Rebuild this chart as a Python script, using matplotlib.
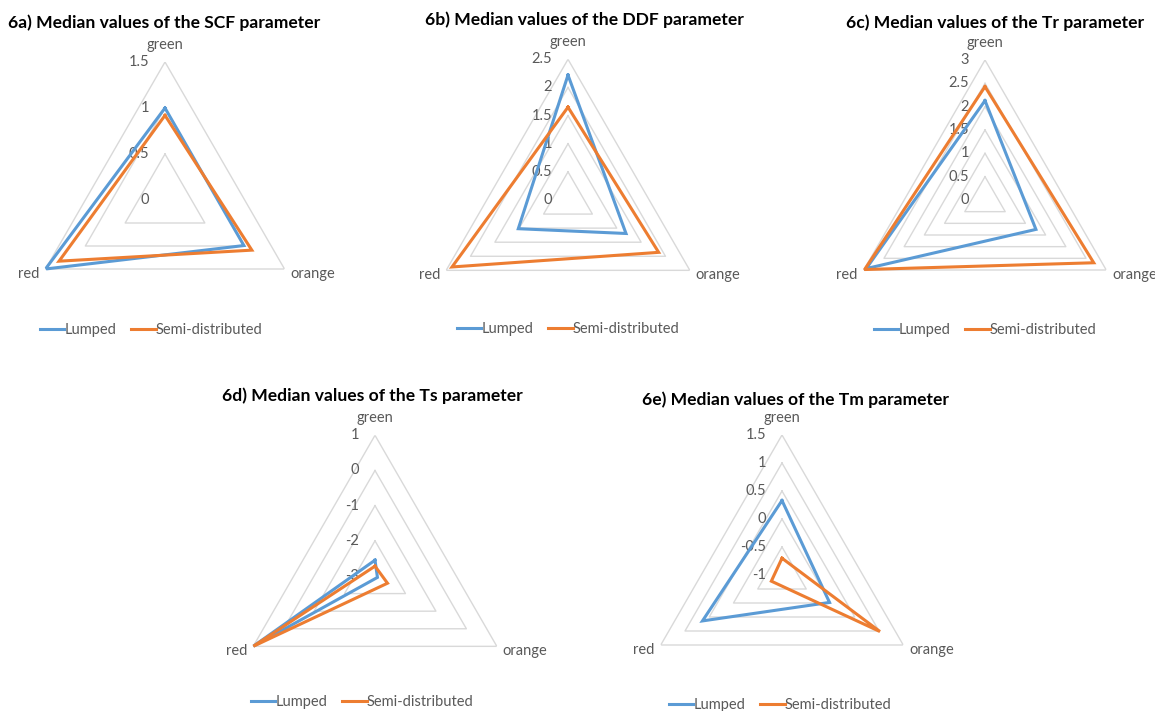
import numpy as np
import matplotlib
matplotlib.use('Agg')
import matplotlib.pyplot as plt
from matplotlib.lines import Line2D

plt.rcParams['font.family'] = ['Lato', 'DejaVu Sans']

W, H = 1155, 711

categories = ['green', 'orange', 'red']
series_names = ['Lumped', 'Semi-distributed']
blue = '#5b9bd5'
orange = '#ed7d31'

# medianas por parâmetro (green, orange, red)
scf_lumped = [1.00, 0.99, 1.50]
scf_semi = [0.92, 1.09, 1.33]
ddf_lumped = [2.22, 1.19, 1.02]
ddf_semi = [1.65, 1.86, 2.38]
tr_lumped = [2.13, 1.26, 2.94]
tr_semi = [2.43, 2.69, 2.98]
ts_lumped = [-2.55, -2.92, 1.00]
ts_semi = [-2.72, -2.59, 1.00]
tm_lumped = [0.33, -0.02, 0.64]
tm_semi = [-0.70, 1.02, -0.78]

scf_ticks = [0, 0.5, 1, 1.5]
ddf_ticks = [0, 0.5, 1, 1.5, 2, 2.5]
tr_ticks = [0, 0.5, 1, 1.5, 2, 2.5, 3]
ts_ticks = [-3, -2, -1, 0, 1]
tm_ticks = [-1, -0.5, 0, 0.5, 1, 1.5]

titles = ['6a) Median values of the SCF parameter',
          '6b) Median values of the DDF parameter',
          '6c) Median values of the Tr parameter',
          '6d) Median values of the Ts parameter',
          '6e) Median values of the Tm parameter']

fig = plt.figure(figsize=(W / 100, H / 100), dpi=100)
fig.patch.set_facecolor('white')

theta = np.array([0, 2 * np.pi / 3, 4 * np.pi / 3])
theta_closed = np.append(theta, 0)


def fmt(v):
    return ('%g' % v)


def radar(cx, cy, R, lumped, semi, ticks, title, title_xy, legend_xy):
    ax = fig.add_axes([(cx - R) / W, 1 - (cy + R) / H, 2 * R / W, 2 * R / H],
                      projection='polar')
    ax.set_theta_offset(np.pi / 2)
    ax.set_theta_direction(-1)
    ax.set_ylim(ticks[0], ticks[-1])
    ax.grid(False)
    ax.set_xticks([])
    ax.set_yticks([])
    ax.spines['polar'].set_visible(False)
    ax.patch.set_alpha(0)

    # grade triangular
    for t in ticks[1:]:
        ax.plot(theta_closed, [t] * 4, color='#d9d9d9', lw=1, zorder=1)

    for t in ticks:
        ax.annotate(fmt(t), xy=(0, t), xytext=(-16, 0), textcoords='offset pixels',
                    ha='right', va='center', fontsize=10.5, color='#595959')

    ax.plot(theta_closed, lumped + lumped[:1], color=blue, lw=2.2, zorder=3,
            solid_joinstyle='miter')
    ax.plot(theta_closed, semi + semi[:1], color=orange, lw=2.2, zorder=4,
            solid_joinstyle='miter')

    top = ticks[-1]
    ax.annotate(categories[0], xy=(theta[0], top), xytext=(0, 17),
                textcoords='offset pixels', ha='center', va='center',
                fontsize=10.5, color='#595959')
    ax.annotate(categories[1], xy=(theta[1], top), xytext=(6, -5),
                textcoords='offset pixels', ha='left', va='center',
                fontsize=10.5, color='#595959')
    ax.annotate(categories[2], xy=(theta[2], top), xytext=(-6, -5),
                textcoords='offset pixels', ha='right', va='center',
                fontsize=10.5, color='#595959')

    fig.text(title_xy[0] / W, 1 - title_xy[1] / H, title, ha='center', va='center',
             fontsize=12.6, fontweight='bold', color='black')

    handles = [Line2D([], [], color=blue, lw=2.2), Line2D([], [], color=orange, lw=2.2)]
    fig.legend(handles, series_names, loc='center',
               bbox_to_anchor=(legend_xy[0] / W, 1 - legend_xy[1] / H),
               ncol=2, frameon=False, fontsize=10.5, handlelength=1.7,
               handletextpad=0.0, columnspacing=1.0, labelcolor='#595959')


radar(165, 200, 138, scf_lumped, scf_semi, scf_ticks, titles[0], (164, 23), (151, 330))
radar(568, 200, 140.7, ddf_lumped, ddf_semi, ddf_ticks, titles[1], (584, 20), (568, 329))
radar(985, 200, 140, tr_lumped, tr_semi, tr_ticks, titles[2], (995, 23), (985, 330))
radar(375, 576, 140.7, ts_lumped, ts_semi, ts_ticks, titles[3], (372, 396), (362, 702))
radar(782, 575, 140, tm_lumped, tm_semi, tm_ticks, titles[4], (796, 400), (780, 705))

fig.savefig('out.png', dpi=100, facecolor='white')
